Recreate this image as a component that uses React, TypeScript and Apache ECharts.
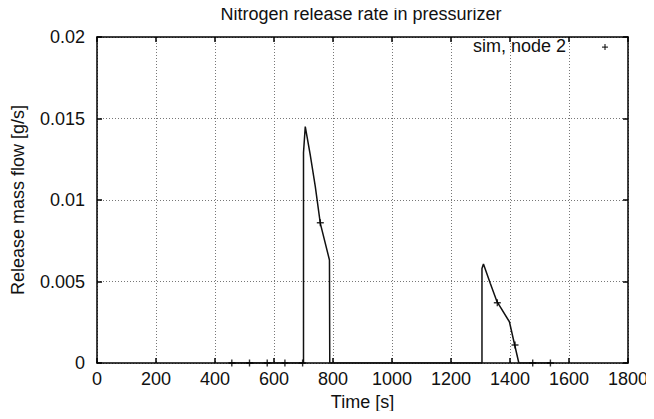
import React, { useEffect, useRef } from "react";
import * as echarts from "echarts";

const titleText = "Nitrogen release rate in pressurizer";
const xAxisName = "Time [s]";
const yAxisName = "Release mass flow [g/s]";
const legendName = "sim, node 2";

// curve samples (time s, mass flow g/s)
const curveTimes = [450, 700, 700, 706, 723, 740, 757, 788, 789, 1305, 1305, 1310, 1333, 1356, 1398, 1412, 1430, 1540];
const curveValues = [0, 0, 0.0129, 0.0145, 0.01276, 0.01082, 0.00857, 0.00632, 0, 0, 0.0058, 0.00607, 0.00489, 0.00376, 0.00253, 0.00141, 0, 0];

// "+" point markers
const markerTimes = [457, 517, 577, 637, 697, 757, 1357, 1417, 1477, 1537];
const markerValues = [0, 0, 0, 0, 0, 0.0086, 0.0037, 0.0011, 0, 0];

const plusPath = "path://M4,0h2v4h4v2h-4v4h-2v-4h-4v-2h4z";

export default function App() {
  const ref = useRef<HTMLDivElement>(null);
  useEffect(() => {
    if (!ref.current) return;
    const chart = echarts.init(ref.current, null, { renderer: "svg" });
    const font = "'Liberation Sans', Arial, Helvetica, sans-serif";
    const axisLine = { show: true, onZero: false, lineStyle: { color: "#000", width: 1.5 } };
    const tick = { show: true, inside: true, length: 5, lineStyle: { color: "#000", width: 1.5 } };
    const fs = 18;
    chart.setOption({
      animation: false,
      backgroundColor: "#fff",
      textStyle: { fontFamily: font },
      title: {
        text: titleText,
        left: 356,
        textAlign: "center",
        top: 0,
        textStyle: { fontSize: fs, fontWeight: "normal", color: "#111", fontFamily: font },
      },
      grid: { left: 97, right: 26, top: 37, bottom: 56, containLabel: false },
      xAxis: [
        {
          type: "value",
          min: 0,
          max: 1800,
          interval: 200,
          name: xAxisName,
          nameLocation: "middle",
          nameGap: 30,
          nameTextStyle: { fontSize: fs, color: "#111", fontFamily: font },
          axisLine,
          axisTick: tick,
          axisLabel: { fontSize: fs, color: "#111", margin: 7, fontFamily: font, formatter: (v: number) => String(v) },
          splitLine: { show: true, lineStyle: { type: [1, 2], color: "#777", width: 1 } },
        },
        {
          type: "value",
          position: "top",
          min: 0,
          max: 1800,
          interval: 200,
          axisLine,
          axisTick: tick,
          axisLabel: { show: false },
          splitLine: { show: false },
        },
      ],
      yAxis: [
        {
          type: "value",
          min: 0,
          max: 0.02,
          interval: 0.005,
          name: yAxisName,
          nameLocation: "middle",
          nameGap: 70,
          nameTextStyle: { fontSize: fs, color: "#111", fontFamily: font },
          axisLine,
          axisTick: tick,
          axisLabel: { fontSize: fs, color: "#111", margin: 12, fontFamily: font, formatter: (v: number) => String(v) },
          splitLine: { show: true, lineStyle: { type: [1, 2], color: "#777", width: 1 } },
        },
        {
          type: "value",
          position: "right",
          min: 0,
          max: 0.02,
          interval: 0.005,
          axisLine,
          axisTick: tick,
          axisLabel: { show: false },
          splitLine: { show: false },
        },
      ],
      series: [
        {
          type: "line",
          name: "curve",
          data: curveTimes.map((t, i) => [t, curveValues[i]]),
          showSymbol: false,
          symbol: "none",
          lineStyle: { color: "#111", width: 1.5 },
          z: 3,
        },
        {
          type: "scatter",
          name: legendName,
          data: markerTimes.map((t, i) => [t, markerValues[i]]),
          symbol: plusPath,
          symbolSize: 7,
          itemStyle: { color: "#000" },
          z: 4,
        },
      ],
      graphic: [
        {
          type: "text",
          right: 88,
          top: 37,
          style: { text: legendName, fontSize: fs, fill: "#111", fontFamily: font },
        },
        {
          type: "group",
          left: 602,
          top: 44,
          children: [
            { type: "rect", shape: { x: 0, y: 2.6, width: 6, height: 1 }, style: { fill: "#000" } },
            { type: "rect", shape: { x: 2.5, y: 0, width: 1, height: 6 }, style: { fill: "#000" } },
          ],
        },
      ],
    });
    return () => chart.dispose();
  }, []);
  return <div ref={ref} style={{ width: 654, height: 419, margin: -8 }} />;
}
